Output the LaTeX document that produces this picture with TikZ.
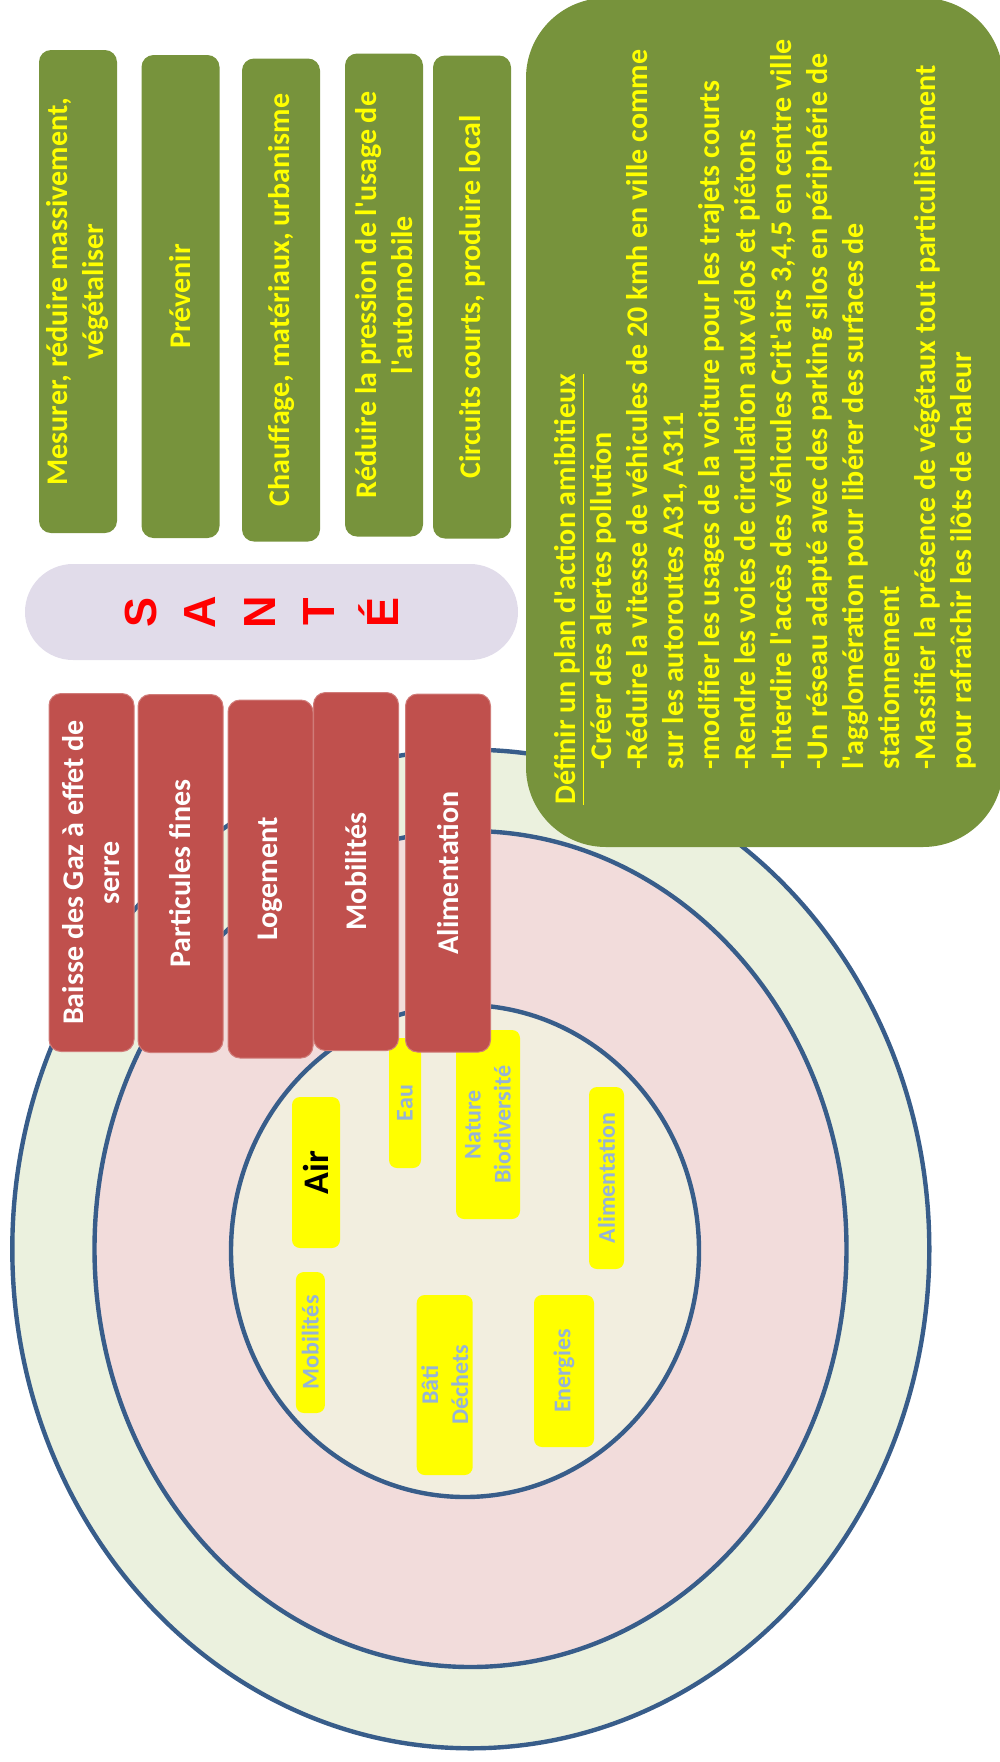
\documentclass[tikz,border=0pt]{standalone}
\usepackage{fontspec}
\setmainfont{Carlito}
\newfontfamily\lettrefont{Liberation Sans}
\newcommand{\apos}{\textquotesingle}
\definecolor{vertOlive}{HTML}{77933C}
\definecolor{jaune}{HTML}{FFFF00}
\definecolor{rouge}{HTML}{C0504D}
\definecolor{lavande}{HTML}{E1DCEA}
\definecolor{vertPale}{HTML}{EBF1DE}
\definecolor{rosePale}{HTML}{F2DCDB}
\definecolor{creme}{HTML}{F2EEDF}
\definecolor{bleuTrait}{HTML}{385D8A}
\definecolor{grisBleu}{HTML}{95B3D7}
\tikzstyle{gbox} = [rotate=90, fill=vertOlive, text=jaune, rounded corners=6pt, minimum width=241.5pt, minimum height=39pt, align=center, inner sep=2pt, font=\fontsize{15}{18}\selectfont\bfseries]
\tikzstyle{rbox} = [rotate=90, fill=rouge, draw=rouge!75!white, line width=0.5pt, text=white, rounded corners=6pt, minimum width=179pt, minimum height=42.5pt, align=center, inner sep=2pt, font=\fontsize{15}{18}\selectfont\bfseries]
\tikzstyle{ybox} = [rotate=90, fill=jaune, text=grisBleu, rounded corners=4pt, align=center, inner sep=0pt, font=\fontsize{12}{15}\selectfont\bfseries]
\tikzstyle{anneau} = [draw=bleuTrait, line width=2.2pt]
\tikzstyle{lettre} = [rotate=90, text=red, inner sep=0pt, font=\lettrefont\fontsize{22.5}{26}\selectfont\bfseries]

\begin{document}
\begin{tikzpicture}[x=0.5pt, y=-0.5pt]
\useasboundingbox (0,0) rectangle (1000,1762);

% anneaux
\draw[anneau, fill=vertPale] (470.8,1249) ellipse [x radius=458.5, y radius=499.3];
\draw[anneau, fill=rosePale] (470.5,1249) ellipse [x radius=376, y radius=418];
\draw[anneau, fill=creme] (465,1251) ellipse [x radius=234, y radius=246];

% themes
\node[ybox, minimum width=75.5pt, minimum height=24pt, text=black, font=\fontsize{18}{22}\selectfont\bfseries] (air) at (316,1172.5) {Air};
\node[ybox, minimum width=65pt, minimum height=16pt] (eau) at (405,1103) {Eau};
\node[ybox, minimum width=94.5pt, minimum height=32pt] (nature) at (488,1124.5) {Nature\\Biodiversité};
\node[ybox, minimum width=91pt, minimum height=17.5pt] (alim) at (606.5,1178) {Alimentation};
\node[ybox, minimum width=70.5pt, minimum height=14.5pt] (mob) at (310.4,1342.5) {Mobilités};
\node[ybox, minimum width=90pt, minimum height=28pt] (bati) at (444.7,1385) {Bâti\\Déchets};
\node[ybox, minimum width=76pt, minimum height=30pt] (energies) at (564,1371) {Energies};

% enjeux
\node[rbox] (baisse) at (91.5,872.5) {Baisse des Gaz à effet de\\serre};
\node[rbox] (particules) at (180.5,873.5) {Particules fines};
\node[rbox] (logement) at (270.5,879) {Logement};
\node[rbox] (mobilites) at (356,871.5) {Mobilités};
\node[rbox] (alimentation) at (448,873) {Alimentation};

% sante
\node[fill=lavande, rounded corners=24pt, minimum width=246.5pt, minimum height=48pt] (sante) at (271.5,612) {};
\foreach \l [count=\i] in {S,A,N,T,É}
  \node[lettre] (lettre\i) at ({141+59.5*(\i-1)},612) {\l};

% leviers
\node[gbox] (mesurer) at (78,291.5) {Mesurer, réduire massivement,\\végétaliser};
\node[gbox] (prevenir) at (180.5,296.5) {Prévenir};
\node[gbox] (chauffage) at (281,300) {Chauffage, matériaux, urbanisme};
\node[gbox] (pression) at (384,295) {Réduire la pression de l\apos usage de\\l\apos automobile};
\node[gbox] (circuits) at (472,297) {Circuits courts, produire local};

% plan d'action
\node[fill=vertOlive, rounded corners=40pt, minimum width=238.5pt, minimum height=424.5pt] (plan) at (764.5,422.5) {};
\node[rotate=90, anchor=north west, align=left, text=jaune, inner sep=0pt, font=\fontsize{15}{18}\selectfont\bfseries] (actions) at (554,805)
  {\underline{Définir un plan d\apos action amibitieux}\\
   \hspace*{17.5pt}-Créer des alertes pollution\\
   \hspace*{17.5pt}-Réduire la vitesse de véhicules de 20 kmh en ville comme\\
   \hspace*{17.5pt}sur les autoroutes A31, A311\\
   \hspace*{17.5pt}-modifier les usages de la voiture pour les trajets courts\\
   \hspace*{17.5pt}-Rendre les voies de circulation aux vélos et piétons\\
   \hspace*{17.5pt}-Interdire l\apos accès des véhicules Crit\apos airs 3,4,5 en centre ville\\
   \hspace*{17.5pt}-Un réseau adapté avec des parking silos en périphérie de\\
   \hspace*{17.5pt}l\apos agglomération pour libérer des surfaces de\\
   \hspace*{17.5pt}stationnement\\
   \hspace*{17.5pt}-Massifier la présence de végétaux tout particulièrement\\
   \hspace*{17.5pt}pour rafraîchir les ilôts de chaleur};

\end{tikzpicture}
\end{document}
